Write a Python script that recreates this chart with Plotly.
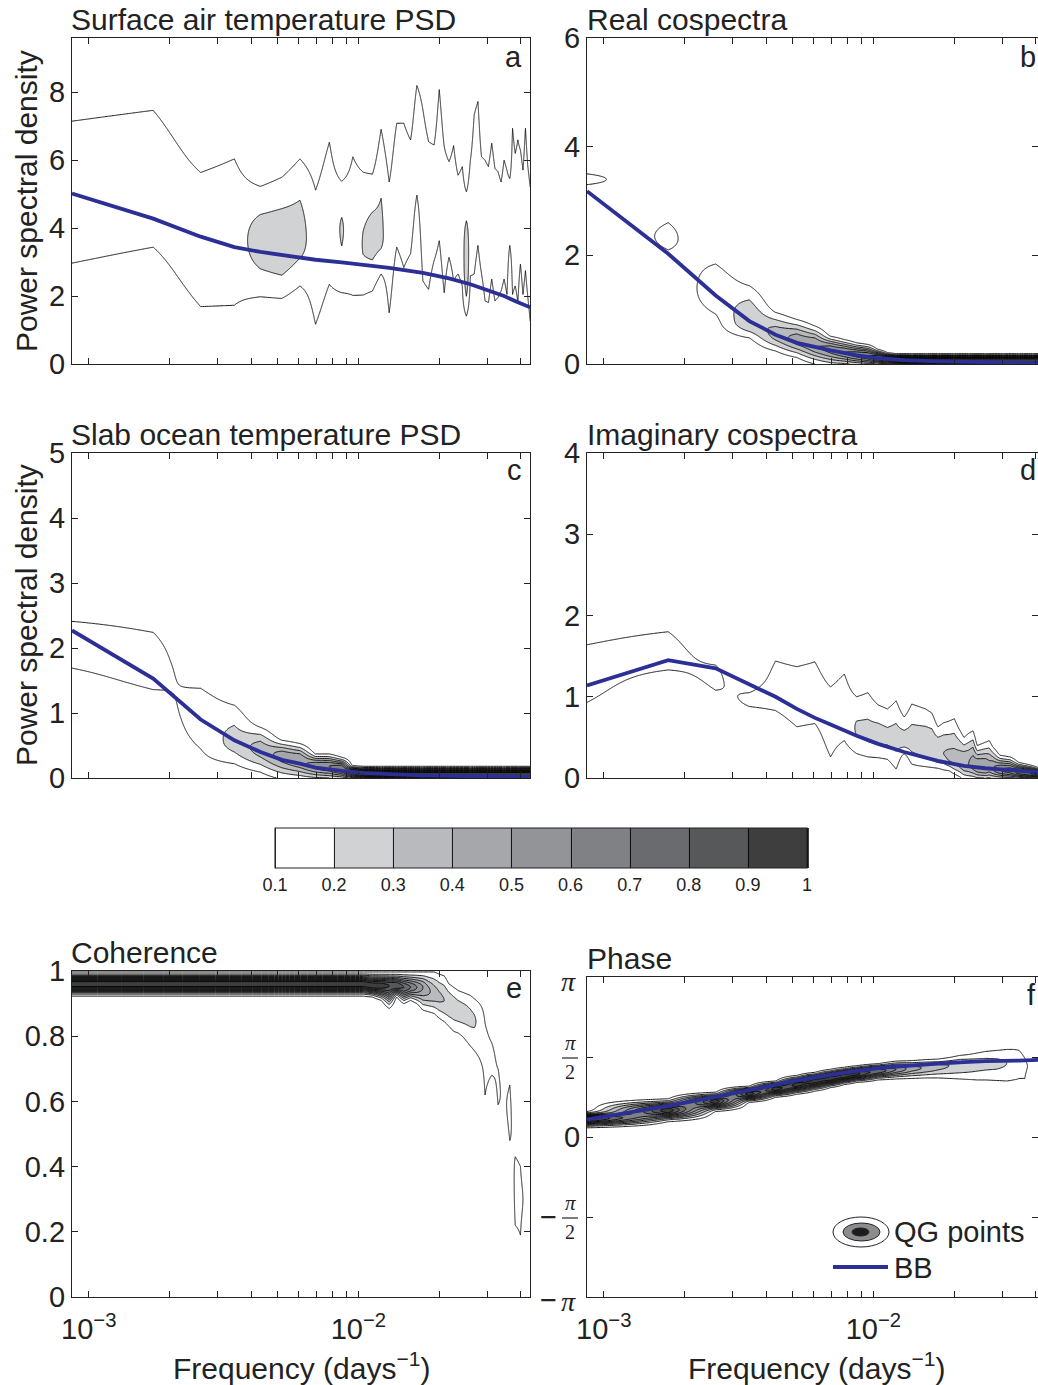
import numpy as np
import plotly.graph_objects as go

W, H = 1038, 1385
FONT = 'Liberation Sans, Arial, Helvetica, sans-serif'
SERIF = 'Liberation Serif, DejaVu Serif, serif'
INK = '#222222'
BLUE = '#2c2f96'

# Fundamental frequency of the spectral estimates (days^-1); estimates at k * F1
F1 = 8.67e-4

# ---------- a: Surface air temperature PSD (QG point distribution) ----------
a_k = list(range(1, 51))
a_hi = [7.15, 7.47, 5.64, 6.04, 5.23, 5.50, 6.04, 5.12, 6.53, 5.38, 6.10, 5.65, 5.59, 6.91, 5.36,
        7.09, 7.09, 6.60, 8.20, 7.49, 6.55, 6.45, 8.08, 6.40, 5.96, 6.43, 5.56, 5.81, 5.07, 6.00,
        7.34, 7.73, 6.10, 6.00, 5.81, 6.50, 5.76, 5.66, 5.36, 6.00, 5.71, 5.46, 6.94, 6.20, 6.60,
        6.30, 5.71, 6.94, 5.81, 5.21]
a_lo = [2.97, 3.44, 1.69, 1.73, 1.98, 1.93, 2.30, 1.17, 2.35, 2.10, 2.02, 2.03, 2.15, 2.65, 1.51,
        3.44, 2.84, 3.24, 4.97, 2.45, 2.20, 3.04, 3.63, 2.10, 3.14, 2.45, 2.65, 2.30, 1.41, 2.60,
        2.65, 3.49, 2.65, 1.86, 1.81, 2.50, 1.86, 1.96, 2.15, 2.50, 2.05, 3.49, 2.05, 2.30, 1.81,
        2.94, 2.05, 2.75, 1.96, 1.26]
a_mid = [5.06, 5.46, 3.67, 3.89, 3.60, 3.45, 3.80, 3.15, 4.44, 3.95, 4.06, 3.50, 3.70, 3.80, 3.44,
         5.27, 4.97, 4.92, 6.59, 4.97, 4.38, 4.75, 5.86, 4.25, 4.55, 4.44, 4.11, 4.06, 2.90, 4.30,
         5.00, 5.61, 4.38, 3.93, 3.81, 4.50, 3.81, 3.81, 3.76, 4.25, 3.88, 4.48, 4.50, 4.25, 4.20,
         4.62, 3.88, 4.85, 3.89, 3.24]
a_peak = [0.15, 0.15, 0.15, 0.15, 0.25, 0.27, 0.24, 0.15, 0.15, 0.21, 0.15, 0.205, 0.23, 0.22, 0.15,
          0.15, 0.15, 0.15, 0.15, 0.15, 0.15, 0.15, 0.15, 0.15, 0.15, 0.15, 0.15, 0.15, 0.30, 0.15,
          0.15, 0.15, 0.15, 0.15, 0.15, 0.15, 0.15, 0.15, 0.15, 0.15, 0.15, 0.15, 0.15, 0.15, 0.15,
          0.15, 0.15, 0.15, 0.15, 0.15]
a_bb_k = [1, 2, 3, 4, 5, 6, 8, 10, 12, 15, 20, 25, 30, 35, 40, 45, 50]
a_bb = [5.02, 4.28, 3.75, 3.44, 3.30, 3.20, 3.07, 2.99, 2.93, 2.83, 2.68, 2.52, 2.35, 2.17, 2.00, 1.82, 1.67]

# ---------- b: Real cospectra ----------
b_k = [1, 2, 3, 4, 5, 6, 7, 8, 9, 10, 11, 12, 13, 14, 16, 18, 20, 23, 26, 30, 35, 40, 45, 50]
b_lo = [3.30, 2.10, 0.92, 0.48, 0.24, 0.12, 0.00, -0.05, -0.05, -0.06, -0.06, -0.06, -0.06, -0.06,
        -0.05, -0.05, -0.05, -0.05, -0.05, -0.05, -0.05, -0.05, -0.05, -0.05]
b_hi = [3.50, 2.60, 1.84, 1.44, 0.95, 0.82, 0.70, 0.51, 0.45, 0.39, 0.36, 0.27, 0.21, 0.19,
        0.19, 0.19, 0.19, 0.19, 0.19, 0.19, 0.19, 0.19, 0.19, 0.19]
b_mid = [3.40, 2.35, 1.35, 0.78, 0.55, 0.45, 0.35, 0.28, 0.22, 0.18, 0.15, 0.12, 0.10, 0.08,
         0.07, 0.07, 0.07, 0.07, 0.07, 0.07, 0.07, 0.07, 0.07, 0.07]
b_peak = [0.13, 0.12, 0.16, 0.30, 0.35, 0.45, 0.50, 0.55, 0.60, 0.65, 0.70, 0.80, 0.85, 0.95,
          0.99, 0.99, 0.99, 0.99, 0.99, 0.99, 0.99, 0.99, 0.99, 0.99]
b_bb_k = [1, 2, 3, 4, 5, 6, 8, 10, 12, 15, 20, 30, 40, 50]
b_bb = [3.18, 2.03, 1.26, 0.79, 0.54, 0.39, 0.25, 0.16, 0.11, 0.07, 0.05, 0.03, 0.02, 0.015]

# ---------- c: Slab ocean temperature PSD ----------
c_k = [1, 2, 3, 4, 5, 6, 7, 8, 9, 10, 11, 12, 14, 16, 20, 25, 30, 40, 50]
c_lo = [1.69, 1.36, 0.45, 0.22, 0.09, -0.02, -0.04, -0.05, -0.05, -0.05, -0.05, -0.05, -0.05,
        -0.05, -0.05, -0.05, -0.05, -0.05, -0.05]
c_hi = [2.41, 2.24, 1.38, 1.12, 0.78, 0.58, 0.53, 0.37, 0.37, 0.32, 0.19, 0.18, 0.18,
        0.18, 0.18, 0.18, 0.18, 0.18, 0.18]
c_mid = [2.10, 1.75, 0.95, 0.55, 0.45, 0.35, 0.28, 0.20, 0.18, 0.15, 0.09, 0.07, 0.06,
         0.06, 0.06, 0.06, 0.06, 0.06, 0.06]
c_peak = [0.14, 0.14, 0.15, 0.24, 0.35, 0.45, 0.50, 0.55, 0.60, 0.70, 0.85, 0.95, 0.99,
          0.99, 0.99, 0.99, 0.99, 0.99, 0.99]
c_bb_k = [1, 2, 3, 4, 5, 6, 7, 8, 10, 12, 15, 20, 30, 50]
c_bb = [2.27, 1.53, 0.90, 0.58, 0.40, 0.28, 0.22, 0.16, 0.11, 0.08, 0.06, 0.04, 0.03, 0.02]

# ---------- d: Imaginary cospectra ----------
d_k = [1, 2, 3, 4, 5, 6, 7, 8, 9, 10, 11, 12, 13, 14, 15, 16, 17, 18, 19, 20, 21, 22, 23, 24, 25,
       26, 27, 28, 29, 30, 31, 32, 34, 37, 40, 44, 47, 50]
d_lo = [0.93, 1.33, 1.08, 0.88, 0.83, 0.63, 0.67, 0.26, 0.46, 0.30, 0.26, 0.25, 0.23, 0.11, 0.30,
        0.17, 0.15, 0.14, 0.13, 0.12, 0.10, 0.09, 0.05, 0.02, -0.02, -0.03, -0.03, -0.04, -0.04,
        -0.04, -0.04, -0.04, -0.04, -0.04, -0.04, -0.04, -0.04, -0.04]
d_hi = [1.64, 1.80, 1.39, 1.05, 1.44, 1.37, 1.43, 1.12, 1.28, 1.00, 1.05, 0.90, 0.85, 0.95, 0.75,
        0.91, 0.88, 0.85, 0.80, 0.63, 0.68, 0.70, 0.73, 0.60, 0.50, 0.55, 0.58, 0.40, 0.42, 0.44,
        0.46, 0.38, 0.28, 0.26, 0.19, 0.16, 0.13, 0.12]
d_mid = [1.25, 1.55, 1.25, 0.96, 1.10, 1.00, 1.00, 0.70, 0.75, 0.60, 0.55, 0.52, 0.50, 0.48, 0.45,
         0.45, 0.42, 0.40, 0.35, 0.30, 0.30, 0.25, 0.22, 0.20, 0.18, 0.17, 0.16, 0.14, 0.13, 0.12,
         0.12, 0.11, 0.10, 0.09, 0.07, 0.06, 0.05, 0.05]
d_peak = [0.13, 0.13, 0.115, 0.11, 0.13, 0.14, 0.14, 0.15, 0.16, 0.21, 0.22, 0.23, 0.22, 0.23, 0.24,
          0.24, 0.25, 0.26, 0.28, 0.30, 0.30, 0.32, 0.33, 0.35, 0.40, 0.40, 0.45, 0.50, 0.50, 0.50,
          0.45, 0.50, 0.60, 0.65, 0.75, 0.80, 0.85, 0.85]
d_bb_k = [1, 2, 3, 4, 5, 6, 7, 8, 10, 12, 15, 20, 25, 30, 40, 50]
d_bb = [1.14, 1.45, 1.35, 1.16, 1.00, 0.85, 0.74, 0.66, 0.52, 0.42, 0.32, 0.21, 0.15, 0.12, 0.09, 0.065]

# ---------- e: Coherence ----------
e_k = [1, 6, 12, 13, 14, 15, 16, 17, 18, 19, 20, 21, 22, 23, 24, 25, 26, 27, 28, 29, 30, 31, 32,
       33, 34, 36, 38, 40, 42, 44, 46, 48, 50]
e_lo = [0.923, 0.923, 0.923, 0.92, 0.91, 0.885, 0.92, 0.90, 0.91, 0.90, 0.88, 0.875, 0.87, 0.855,
        0.845, 0.83, 0.815, 0.81, 0.80, 0.785, 0.77, 0.756, 0.74, 0.715, 0.62, 0.68, 0.59, 0.50,
        0.48, 0.22, 0.19, 0.20, 0.20]
e_hi = [0.997, 0.997, 0.997, 0.997, 0.997, 0.997, 0.997, 0.997, 0.997, 0.997, 0.997, 0.997, 0.997,
        0.99, 0.985, 0.96, 0.95, 0.94, 0.935, 0.93, 0.925, 0.915, 0.905, 0.89, 0.84, 0.78, 0.70,
        0.70, 0.65, 0.43, 0.40, 0.40, 0.40]
e_mid = [0.96, 0.96, 0.96, 0.955, 0.955, 0.955, 0.955, 0.95, 0.95, 0.95, 0.95, 0.94, 0.93, 0.92,
         0.91, 0.90, 0.89, 0.88, 0.875, 0.87, 0.86, 0.85, 0.84, 0.82, 0.75, 0.73, 0.65, 0.60,
         0.56, 0.32, 0.30, 0.30, 0.30]
e_peak = [0.99, 0.99, 0.99, 0.99, 0.97, 0.90, 0.90, 0.80, 0.70, 0.60, 0.50, 0.42, 0.36, 0.32,
          0.30, 0.28, 0.26, 0.25, 0.24, 0.23, 0.22, 0.21, 0.19, 0.16, 0.13, 0.12, 0.11, 0.09,
          0.115, 0.115, 0.11, 0.09, 0.08]

# ---------- f: Phase ----------
f_k = [1, 2, 3, 4, 5, 6, 7, 8, 9, 10, 12, 14, 16, 18, 20, 22, 24, 26, 28, 30, 33, 36, 38, 40,
       42, 44, 47, 50]
f_lo = [0.18, 0.30, 0.50, 0.68, 0.78, 0.84, 0.90, 0.97, 1.03, 1.07, 1.12, 1.14, 1.15, 1.16, 1.16,
        1.15, 1.14, 1.13, 1.12, 1.12, 1.11, 1.10, 1.12, 1.15, 1.15, 1.20, 1.20, 1.20]
f_hi = [0.50, 0.75, 0.88, 1.00, 1.10, 1.21, 1.27, 1.33, 1.37, 1.40, 1.44, 1.49, 1.50, 1.52, 1.53,
        1.56, 1.60, 1.62, 1.65, 1.68, 1.70, 1.72, 1.72, 1.70, 1.55, 1.60, 1.60, 1.60]
f_mid = [0.36, 0.52, 0.70, 0.85, 0.95, 1.03, 1.10, 1.15, 1.20, 1.24, 1.30, 1.33, 1.35, 1.36, 1.38,
         1.40, 1.42, 1.43, 1.44, 1.45, 1.45, 1.45, 1.45, 1.45, 1.35, 1.40, 1.40, 1.40]
f_peak = [0.99, 0.99, 0.99, 0.99, 0.99, 0.99, 0.99, 0.99, 0.99, 0.95, 0.80, 0.60, 0.45, 0.38, 0.33,
          0.30, 0.28, 0.26, 0.24, 0.23, 0.22, 0.20, 0.15, 0.12, 0.11, 0.09, 0.08, 0.08]
f_bb_k = [1, 2, 3, 4, 6, 8, 10, 13, 16, 20, 25, 30, 40, 50]
f_bb = [0.34, 0.61, 0.79, 0.92, 1.11, 1.22, 1.30, 1.37, 1.41, 1.44, 1.47, 1.49, 1.50, 1.52]

# colour levels of the QG point density
levels = [0.1, 0.2, 0.3, 0.4, 0.5, 0.6, 0.7, 0.8, 0.9, 1.0]
level_labels = ['0.1', '0.2', '0.3', '0.4', '0.5', '0.6', '0.7', '0.8', '0.9', '1']
grays = ['#ffffff', '#d1d2d4', '#b9babd', '#a6a7aa', '#939497', '#808184', '#6a6b6e', '#57585a', '#3e3e3f']

# frequency axis ticks
x_major = [1e-3, 1e-2]
x_major_text = ['10<sup>−3</sup>', '10<sup>−2</sup>']
x_minor = [2e-3, 3e-3, 4e-3, 5e-3, 6e-3, 7e-3, 8e-3, 9e-3, 2e-2, 3e-2, 4e-2]

colorscale = []
for i, c in enumerate(grays):
    colorscale += [[i / 9, c], [(i + 1) / 9, c]]


def px(x):
    return x / W


def py(y):
    return 1 - y / H


def density_table(lo, hi, mid, peak, ygrid):
    """Per-frequency density column built from the read 0.1-contour bounds, centre and peak."""
    cols = []
    for l, h, m, p in zip(lo, hi, mid, peak):
        L = np.sqrt(2 * np.log(p / 0.1)) if p > 0.1 else 1.0
        su = max(h - m, 1e-3) / L
        sl = max(m - l, 1e-3) / L
        d = ygrid - m
        s = np.where(d > 0, su, sl)
        cols.append(10 * p * np.exp(-0.5 * (d / s) ** 2))
    return np.array(cols).T


# panel geometry (pixels): left, right, top, bottom
LEFT_X = (72, 530)
RIGHT_X = (587, 1038)
ROWS = {'a': (38, 364), 'b': (38, 364), 'c': (453, 778), 'd': (453, 778), 'e': (971, 1297), 'f': (977, 1297)}
LOG_LEFT = np.log10(F1)
LOG_RIGHT_L = LOG_LEFT + (LEFT_X[1] - LEFT_X[0]) / 269.7
LOG_RIGHT_R = LOG_LEFT + (RIGHT_X[1] - RIGHT_X[0]) / 269.7

panels = [
    dict(n='a', k=a_k, lo=a_lo, hi=a_hi, mid=a_mid, peak=a_peak, bbk=a_bb_k, bb=a_bb,
         yr=(0, 9.6), yt=[0, 2, 4, 6, 8], ytt=['0', '2', '4', '6', '8'], ym=[], col='L', xl=False),
    dict(n='b', k=b_k, lo=b_lo, hi=b_hi, mid=b_mid, peak=b_peak, bbk=b_bb_k, bb=b_bb,
         yr=(0, 6), yt=[0, 2, 4, 6], ytt=['0', '2', '4', '6'], ym=[], col='R', xl=False),
    dict(n='c', k=c_k, lo=c_lo, hi=c_hi, mid=c_mid, peak=c_peak, bbk=c_bb_k, bb=c_bb,
         yr=(0, 5), yt=[0, 1, 2, 3, 4, 5], ytt=['0', '1', '2', '3', '4', '5'], ym=[], col='L', xl=False),
    dict(n='d', k=d_k, lo=d_lo, hi=d_hi, mid=d_mid, peak=d_peak, bbk=d_bb_k, bb=d_bb,
         yr=(0, 4), yt=[0, 1, 2, 3, 4], ytt=['0', '1', '2', '3', '4'], ym=[], col='R', xl=False),
    dict(n='e', k=e_k, lo=e_lo, hi=e_hi, mid=e_mid, peak=e_peak, bbk=None, bb=None,
         yr=(0, 1), yt=[0, 0.2, 0.4, 0.6, 0.8, 1], ytt=['0', '0.2', '0.4', '0.6', '0.8', '1'], ym=[],
         col='L', xl=True),
    dict(n='f', k=f_k, lo=f_lo, hi=f_hi, mid=f_mid, peak=f_peak, bbk=f_bb_k, bb=f_bb,
         yr=(-np.pi, np.pi), yt=[0], ytt=['0'], ym=[-np.pi, -np.pi / 2, np.pi / 2, np.pi],
         col='R', xl=True),
]

fig = go.Figure()
layout = dict(width=W, height=H, margin=dict(l=0, r=0, t=0, b=0, pad=0, autoexpand=False),
              paper_bgcolor='white', plot_bgcolor='white', showlegend=False,
              font=dict(family=FONT, size=29, color=INK))

axis_common = dict(showline=True, linecolor=INK, linewidth=1.3, mirror='ticks', ticks='inside',
                   ticklen=6, tickwidth=1, tickcolor=INK, showgrid=False, zeroline=False,
                   automargin=False, tickfont=dict(family=FONT, size=29, color=INK))
minor_common = dict(ticks='inside', ticklen=6, tickwidth=1, tickcolor=INK, showgrid=False, tickmode='array')

for i, p in enumerate(panels):
    idx = '' if i == 0 else str(i + 1)
    xs = LEFT_X if p['col'] == 'L' else RIGHT_X
    top, bot = ROWS[p['n']]
    xr = [LOG_LEFT, LOG_RIGHT_L if p['col'] == 'L' else LOG_RIGHT_R]
    ygrid = np.linspace(p['yr'][0], p['yr'][1], 700)
    z = density_table(p['lo'], p['hi'], p['mid'], p['peak'], ygrid)
    freqs = [kk * F1 for kk in p['k']]
    tr = go.Contour(
        x=freqs, y=ygrid, z=z, xaxis='x' + idx, yaxis='y' + idx,
        autocontour=False, contours=dict(start=1, end=10, size=1, coloring='fill', showlines=True),
        zmin=1, zmax=10, zauto=False, colorscale=colorscale,
        line=dict(color='black', width=0.9, smoothing=0),
        hoverinfo='skip', showscale=(p['n'] == 'a'),
    )
    if p['n'] == 'a':
        tr.colorbar = dict(orientation='h', x=px(541), xanchor='center', y=py(828), yanchor='top',
                           len=532 / W, lenmode='fraction', thickness=40, thicknessmode='pixels',
                           xpad=0, ypad=0, outlinewidth=1, outlinecolor=INK,
                           tickmode='array', tickvals=[v * 10 for v in levels], ticktext=level_labels,
                           ticks='', tickfont=dict(family=FONT, size=18, color=INK))
    fig.add_trace(tr)
    if p['bb'] is not None:
        fig.add_trace(go.Scatter(x=[kk * F1 for kk in p['bbk']], y=p['bb'], mode='lines',
                                 line=dict(color=BLUE, width=3.8), xaxis='x' + idx, yaxis='y' + idx,
                                 hoverinfo='skip', cliponaxis=True))
    xa = dict(axis_common, domain=[px(xs[0]), px(xs[1])], type='log', range=xr, anchor='y' + idx,
              tickmode='array', tickvals=x_major, ticktext=x_major_text, showticklabels=p['xl'],
              ticklabelstandoff=6, minor=dict(minor_common, tickvals=x_minor))
    ya = dict(axis_common, domain=[py(bot), py(top)], range=list(p['yr']), anchor='x' + idx,
              tickmode='array', tickvals=p['yt'], ticktext=p['ytt'])
    if p['ym']:
        ya['minor'] = dict(minor_common, tickvals=p['ym'])
    layout['xaxis' + idx] = xa
    layout['yaxis' + idx] = ya

annotations = []
shapes = []


def text(x, y, s, size=29, xanchor='left', yanchor='middle', family=FONT, angle=0):
    annotations.append(dict(x=px(x), y=py(y), xref='paper', yref='paper', text=s, showarrow=False,
                            xanchor=xanchor, yanchor=yanchor, textangle=angle, borderpad=0,
                            font=dict(family=family, size=size, color=INK)))


# panel titles
text(70, 37, 'Surface air temperature PSD', size=30, yanchor='bottom')
text(586, 37, 'Real cospectra', size=30, yanchor='bottom')
text(70, 452, 'Slab ocean temperature PSD', size=30, yanchor='bottom')
text(586, 452, 'Imaginary cospectra', size=30, yanchor='bottom')
text(70, 970, 'Coherence', size=30, yanchor='bottom')
text(586, 976, 'Phase', size=30, yanchor='bottom')

# panel letters
text(523, 57, 'a', xanchor='right')
text(1037, 57, 'b', xanchor='right')
text(523, 470, 'c', xanchor='right')
text(1037, 470, 'd', xanchor='right')
text(523, 988, 'e', xanchor='right')
text(1037, 995, 'f', xanchor='right')

# axis titles
text(26, 201, 'Power spectral density', size=30, xanchor='center', angle=-90)
text(26, 615, 'Power spectral density', size=30, xanchor='center', angle=-90)
text(301, 1366, 'Frequency (days<sup>−1</sup>)', size=30, xanchor='center')
text(816, 1366, 'Frequency (days<sup>−1</sup>)', size=30, xanchor='center')

# phase tick labels (pi fractions)
text(568, 981, '<i>π</i>', size=28, xanchor='center', family=SERIF)
text(570, 1056, '<i>π</i>', size=21, xanchor='center', yanchor='bottom', family=SERIF)
text(570, 1060, '2', size=20, xanchor='center', yanchor='top', family=SERIF)
shapes.append(dict(type='line', xref='paper', yref='paper', x0=px(562), x1=px(578), y0=py(1058), y1=py(1058),
                   line=dict(color=INK, width=1.2)))
text(548, 1217, '−', size=29, xanchor='center')
text(570, 1216, '<i>π</i>', size=21, xanchor='center', yanchor='bottom', family=SERIF)
text(570, 1220, '2', size=20, xanchor='center', yanchor='top', family=SERIF)
shapes.append(dict(type='line', xref='paper', yref='paper', x0=px(562), x1=px(578), y0=py(1218), y1=py(1218),
                   line=dict(color=INK, width=1.2)))
text(548, 1300, '−', size=29, xanchor='center')
text(568, 1301, '<i>π</i>', size=28, xanchor='center', family=SERIF)

# legend
shapes.append(dict(type='circle', xref='paper', yref='paper', x0=px(833), x1=px(889), y0=py(1247), y1=py(1217),
                   fillcolor='white', line=dict(color=INK, width=1)))
shapes.append(dict(type='circle', xref='paper', yref='paper', x0=px(843), x1=px(880), y0=py(1241), y1=py(1223),
                   fillcolor='#8c8c8e', line=dict(color=INK, width=1)))
shapes.append(dict(type='circle', xref='paper', yref='paper', x0=px(852), x1=px(869), y0=py(1236), y1=py(1228),
                   fillcolor='#1c1c1c', line=dict(color=INK, width=1)))
shapes.append(dict(type='line', xref='paper', yref='paper', x0=px(833), x1=px(888), y0=py(1267), y1=py(1267),
                   line=dict(color=BLUE, width=3.8)))
text(893, 1232, 'QG points')
text(893, 1268, 'BB')

layout['annotations'] = annotations
layout['shapes'] = shapes
fig.update_layout(**layout)
fig.write_html('out.html')
